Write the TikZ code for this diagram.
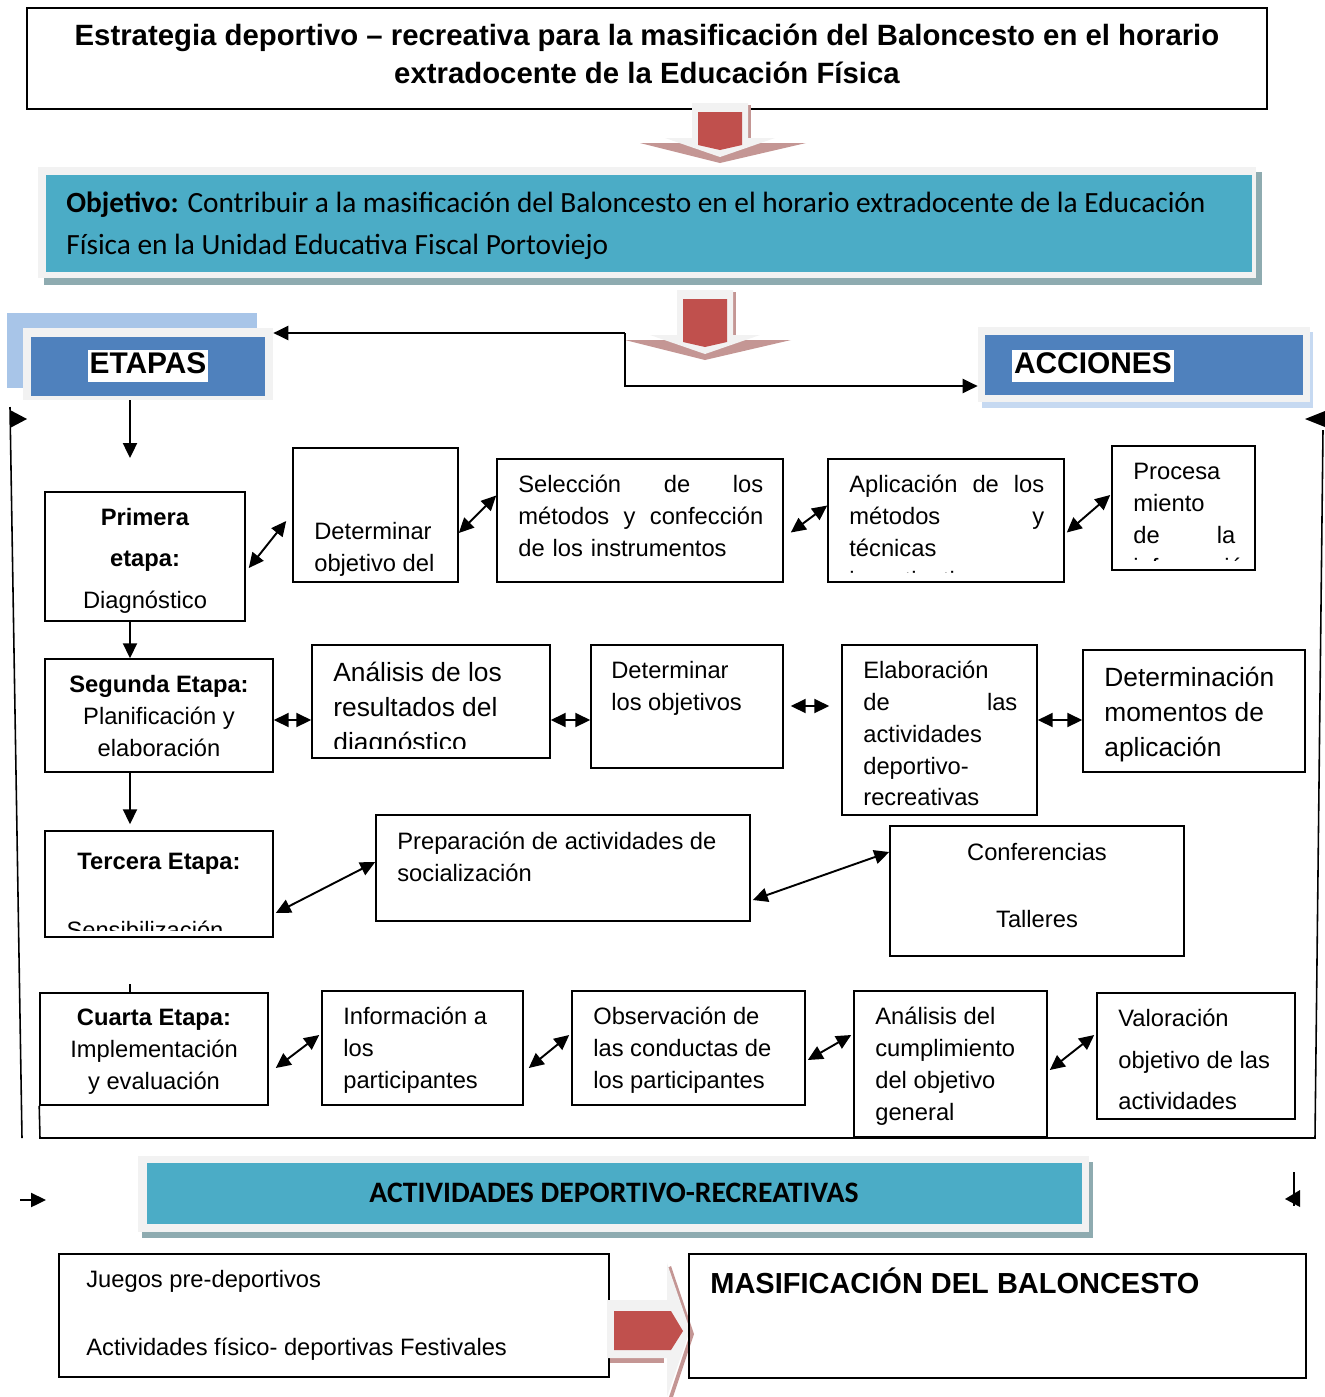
\documentclass[tikz,border=0pt]{standalone}
\usepackage{fontspec}
\setmainfont{Liberation Sans}
\newfontfamily\calibri{Carlito}
\usepackage{tikz}
\usetikzlibrary{arrows.meta}
\usetikzlibrary{calc}
\usetikzlibrary{fit}
\definecolor{blockred}{RGB}{192,80,77}
\definecolor{blockshade}{RGB}{196,150,148}
\definecolor{framegray}{RGB}{242,242,242}
\definecolor{objteal}{RGB}{75,172,198}
\definecolor{tealshade}{RGB}{142,171,176}
\definecolor{etapablue}{RGB}{79,129,189}
\definecolor{paleblue}{RGB}{168,197,232}
\definecolor{paleshade}{RGB}{198,217,241}
\newcommand{\bodysize}{\fontsize{13.5}{18.1}\selectfont}
\newcommand{\widesize}{\fontsize{13.5}{23.5}\selectfont}
\newcommand{\bigsize}{\fontsize{15}{19.8}\selectfont}
\newcommand{\headsize}{\fontsize{17}{20}\selectfont\bfseries}
% cx, top of shaft, shaft length
\newcommand{\blockdown}[3]{%
    \fill[blockshade] (#1-80,#2+#3+5) -- (#1+86,#2+#3+5) -- (#1,#2+#3+25) -- cycle;
    \fill[blockshade] (#1+28,#2+2) rectangle (#1+31,#2+#3+3);
    \fill[framegray] (#1-28,#2) -- (#1+28,#2) -- (#1+28,#2+#3) -- (#1+55,#2+#3)
        -- (#1,#2+#3+19) -- (#1-55,#2+#3) -- (#1-28,#2+#3) -- cycle;
    \fill[blockred] (#1-22,#2+9) -- (#1+22,#2+9) -- (#1+22,#2+#3+7) -- (#1,#2+#3+12)
        -- (#1-22,#2+#3+7) -- cycle;
}
\tikzset{
    >={Triangle[length=8.5pt,width=8pt]},
    box/.style={draw, line width=0.9pt, inner sep=0pt},
    framed/.style={fill=framegray, inner sep=0pt},
    txt/.style={inner sep=0pt, anchor=north west, align=left, font=\bodysize, execute at begin node=\strut},
    ctxt/.style={txt, anchor=north, align=center},
    link/.style={<->, line width=1.1pt},
    flow/.style={->, line width=1.1pt},
    edge-line/.style={line width=0.9pt}
}
\begin{document}
\begin{tikzpicture}[x=0.02cm, y=-0.02cm]
\useasboundingbox (0,0) rectangle (1325,1397);

% title
\node[box, fit={(27,8) (1267,109)}] (title) {};
\node[ctxt, font=\fontsize{16.7}{21.5}\selectfont\bfseries] (title-t) at (647,24)
    {Estrategia deportivo – recreativa para la masificación del Baloncesto en el horario\\extradocente de la Educación Física};
\blockdown{720}{103}{35}

% objetivo
\fill[tealshade] (44,172) rectangle (1262,285);
\node[framed, fit={(38,167) (1256,278)}] (obj-frame) {};
\node[fill=objteal, inner sep=0pt, fit={(46,175) (1252,272)}] (obj) {};
\node[txt, font=\calibri\fontsize{16.7}{23.8}\selectfont] (obj-t) at (66,192)
    {\textbf{Objetivo:} Contribuir a la masificación del Baloncesto en el horario extradocente de la Educación\\Física en la Unidad Educativa Fiscal Portoviejo};
\blockdown{705}{290}{45}

% etapas / acciones
\fill[paleblue] (7,313) rectangle (257,388);
\node[framed, fit={(23,328) (273,400)}] (etapas-frame) {};
\node[fill=etapablue, inner sep=0pt, fit={(31,337) (265,396)}] (etapas) {};
\node[fill=white, inner xsep=1pt, inner ysep=0pt, text height=13.5pt, text depth=4.5pt, font=\headsize] (etapas-t) at (148,366) {ETAPAS};
\fill[paleshade] (982,332) rectangle (1313,408);
\node[framed, fit={(978,327) (1310,402)}] (acciones-frame) {};
\node[fill=etapablue, inner sep=0pt, fit={(985,335) (1303,395)}] (acciones) {};
\node[fill=white, anchor=west, inner xsep=1pt, inner ysep=0pt, text height=13.5pt, text depth=4.5pt, font=\headsize] (acciones-t) at (1012,366) {ACCIONES};
\coordinate (split) at (625,333);
\draw[flow] (split) -- (split -| etapas-frame.east);
\draw[flow] (split) |- (acciones-frame.west |- 0,386);
\coordinate (etapas-end) at (130,458);
\draw[flow] (etapas-frame.south -| etapas-end) -- (etapas-end);

% primera etapa
\node[box, fit={(45,492) (245,621)}] (prim) {};
\node[ctxt, font=\widesize] (prim-t) at (145,508) {\textbf{Primera}\\\textbf{etapa:}\\Diagnóstico};
\node[box, fit={(293,448) (458,582)}] (detobj) {};
\begin{scope}
    \clip (detobj.north west) rectangle ($(detobj.south east)+(0,-7)$);
    \node[txt] (detobj-t) at (314,522) {Determinar\\objetivo del};
\end{scope}
\node[box, fit={(497,459) (783,582)}] (sel) {};
\node[txt, text width=4.9cm] (sel-t) at (518,470)
    {Selección \hfill de \hfill los\\métodos \hfill y \hfill confección\\de los instrumentos};
\node[box, fit={(828,459) (1064,582)}] (apl) {};
\begin{scope}
    \clip (apl.north west) rectangle ($(apl.south east)+(0,-10)$);
    \node[txt, text width=3.9cm] (apl-t) at (849,470)
        {Aplicación \hfill de \hfill los\\métodos \hfill y\\técnicas\\investigativas};
\end{scope}
\node[box, fit={(1112,446) (1255,570)}] (proc) {};
\begin{scope}
    \clip (proc.north west) rectangle ($(proc.south east)+(0,-10)$);
    \node[txt, text width=2.04cm] (proc-t) at (1133,457)
        {Procesa\\miento\\de \hfill la\\información};
\end{scope}
\draw[link] ($(prim.east)+(3,11.5)$) -- ($(detobj.west)+(-6,6)$);
\draw[link] ($(detobj.east)+(0,18)$) -- ($(sel.west)+(0,-25)$);
\draw[link] ($(sel.east)+(7,12)$) -- ($(apl.west)+(0,-15)$);
\draw[link] ($(apl.east)+(2,12)$) -- ($(proc.west)+(-1,-13)$);

% segunda etapa
\node[box, fit={(45,659) (273,772)}] (seg) {};
\node[ctxt] (seg-t) at (159,675) {\textbf{Segunda Etapa:}\\Planificación y\\elaboración};
\node[box, fit={(312,645) (550,758)}] (ana) {};
\begin{scope}
    \clip (ana.north west) rectangle ($(ana.south east)+(0,-10)$);
    \node[txt, font=\bigsize] (ana-t) at (333,662) {Análisis de los\\resultados del\\diagnóstico};
\end{scope}
\node[box, fit={(591,645) (783,768)}] (detob) {};
\node[txt] (detob-t) at (611,661) {Determinar\\los objetivos};
\node[box, fit={(842,645) (1037,815)}] (elab) {};
\node[txt, text width=3.08cm] (elab-t) at (863,656)
    {Elaboración\\de \hfill las\\actividades\\deportivo-\\recreativas};
\node[box, fit={(1083,650) (1305,772)}] (detm) {};
\node[txt, font=\bigsize] (detm-t) at (1104,667) {Determinación\\momentos de\\aplicación};
\draw[link] (seg.east |- 0,720) -- (ana.west |- 0,720);
\draw[link] (ana.east |- 0,720) -- (detob.west |- 0,720);
\draw[link, shorten <=0.14cm, shorten >=0.24cm] (detob.east |- 0,706) -- (elab.west |- 0,706);
\draw[link] (elab.east |- 0,720) -- (detm.west |- 0,720);
\draw[flow] ($(prim.south)+(-15,0)$) -- ($(seg.north)+(-29,0)$);

% tercera etapa
\node[box, fit={(45,831) (273,937)}] (ter) {};
\node[ctxt] (ter-t) at (159,847) {\textbf{Tercera Etapa:}};
\begin{scope}
    \clip (ter.north west) rectangle ($(ter.south east)+(0,-7)$);
    \node[ctxt] (ter-s) at (145,916) {Sensibilización};
\end{scope}
\node[box, fit={(376,815) (750,921)}] (prep) {};
\node[txt] (prep-t) at (397,832) {Preparación de actividades de\\socialización};
\node[box, fit={(890,826) (1184,956)}] (conf) {};
\node[ctxt] (conf-t) at (1037,843) {Conferencias\\[20pt]Talleres};
\draw[link] ($(ter.east)+(2,29)$) -- ($(prep.west)+(0,-6)$);
\draw[link] ($(prep.east)+(2,32)$) -- ($(conf.west)+(0,-39)$);
\draw[flow] ($(seg.south)+(-29,0)$) -- ($(ter.north)+(-29,-6)$);

% cuarta etapa
\node[box, fit={(40,993) (268,1105)}] (cua) {};
\node[ctxt] (cua-t) at (154,1009) {\textbf{Cuarta Etapa:}\\Implementación\\y evaluación};
\node[box, fit={(322,991) (523,1105)}] (inf) {};
\node[txt] (inf-t) at (343,1007) {Información a\\los\\participantes};
\node[box, fit={(572,991) (805,1105)}] (obs) {};
\node[txt] (obs-t) at (593,1007) {Observación de\\las conductas de\\los participantes};
\node[box, fit={(854,991) (1047,1137)}] (anl) {};
\node[txt] (anl-t) at (875,1007) {Análisis del\\cumplimiento\\del objetivo\\general};
\node[box, fit={(1097,993) (1295,1119)}] (val) {};
\node[txt, font=\widesize] (val-t) at (1118,1009) {Valoración\\objetivo de las\\actividades};
\draw[edge-line] ($(cua.north)+(-24,0)$) -- ++(0,-8);
\draw[link] ($(cua.east)+(7,19)$) -- ($(inf.west)+(-2,-13)$);
\draw[link] ($(inf.east)+(5,20)$) -- ($(obs.west)+(-2,-13)$);
\draw[link] ($(obs.east)+(2,12)$) -- ($(anl.west)+(-2,-29)$);
\draw[link] ($(anl.east)+(2,6)$) -- ($(val.west)+(-2,-21)$);

% outer frame lines
\coordinate (frame-sw) at (40,1138);
\coordinate (frame-se) at (1315,1138);
\coordinate (right-top) at (1323,430);
\draw[edge-line] (cua.south west) -- (frame-sw) -- (frame-se) -- (right-top);
\fill (1305,419) -- (1325,411) -- (1325,427) -- cycle;
\coordinate (left-bot) at (22,1138);
\coordinate (left-top) at (10,407);
\draw[edge-line] (left-bot) -- (left-top);
\fill (10,410) -- (27,419) -- (10,428) -- cycle;
\coordinate (low-left-a) at (20,1200);
\coordinate (low-left-b) at (46,1200);
\draw[flow] (low-left-a) -- (low-left-b);
\coordinate (low-right-a) at (1294,1172);
\coordinate (low-right-b) at (1294,1206);
\draw[edge-line] (low-right-a) -- (low-right-b);
\fill (1285,1199) -- (1300,1190) -- (1300,1207) -- cycle;

% actividades
\fill[tealshade] (142,1162) rectangle (1093,1238);
\node[framed, fit={(138,1156) (1089,1232)}] (act-frame) {};
\node[fill=objteal, inner sep=0pt, fit={(147,1163) (1082,1224)}] (act) {};
\node[font=\calibri\bfseries\fontsize{16.9}{20}\selectfont] (act-t) at (614,1193) {ACTIVIDADES DEPORTIVO-RECREATIVAS};
\node[box, fit={(59,1254) (609,1377)}] (jue) {};
\node[txt] (jue-t) at (86,1270) {Juegos pre-deportivos\\[20.4pt]Actividades físico- deportivas Festivales};
\fill[blockshade] (610,1356) rectangle (664,1363);
\fill[blockshade] (671,1266) -- (694,1334) -- (672,1400) -- (668,1400) -- (690,1334) -- (667,1268) -- cycle;
\fill[framegray] (607,1300) -- (667,1300) -- (667,1263) -- (690,1330) -- (667,1397) -- (667,1358) -- (607,1358) -- cycle;
\fill[blockred] (614,1311) -- (671,1311) -- (683,1331) -- (671,1350) -- (614,1350) -- cycle;
\node[box, fit={(689,1254) (1306,1378)}] (mas) {};
\node[txt, font=\fontsize{16.5}{20}\selectfont\bfseries] (mas-t) at (710,1267) {MASIFICACIÓN DEL BALONCESTO};
\end{tikzpicture}
\end{document}
